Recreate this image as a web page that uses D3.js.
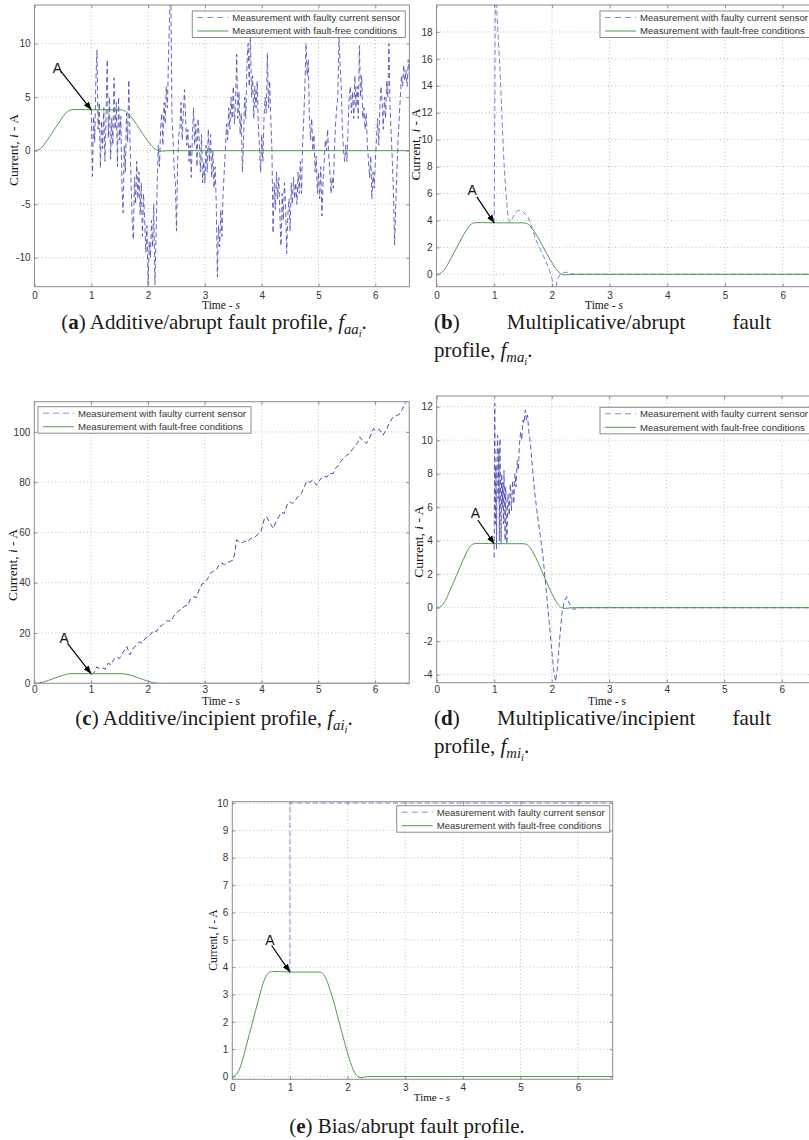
<!DOCTYPE html>
<html><head><meta charset="utf-8">
<script src="https://cdn.jsdelivr.net/npm/d3@7"></script>
<style>body{margin:0;background:#fff}svg{display:block}</style>
</head><body>
<svg id="c" width="809" height="1140"></svg>
<script>
// ---------------- DATA ----------------
const ticksX = [0, 1, 2, 3, 4, 5, 6];
const ticksYA = [-10, -5, 0, 5, 10];
const ticksYB = [0, 2, 4, 6, 8, 10, 12, 14, 16, 18];
const ticksYC = [0, 20, 40, 60, 80, 100];
const ticksYD = [-4, -2, 0, 2, 4, 6, 8, 10, 12];
const ticksYE = [0, 1, 2, 3, 4, 5, 6, 7, 8, 9, 10];
const legendLabels = ["Measurement with faulty current sensor", "Measurement with fault-free conditions"];

// fault-free current profile (s, A)
const timeFF = [0, 0.05, 0.1, 0.15, 0.2, 0.25, 0.3, 0.35, 0.4, 0.45, 0.5, 0.55, 0.6, 0.65, 0.7, 0.8, 0.9, 1.0, 1.1, 1.2, 1.3, 1.4, 1.5, 1.55, 1.6, 1.65, 1.7, 1.75, 1.8, 1.85, 1.9, 1.95, 2.0, 2.05, 2.1, 2.15, 2.2, 2.25, 2.3, 2.35, 6.6];
const currentFF = [0, 0.04, 0.17, 0.42, 0.78, 1.18, 1.58, 1.98, 2.38, 2.78, 3.16, 3.5, 3.72, 3.82, 3.84, 3.84, 3.83, 3.82, 3.82, 3.82, 3.82, 3.82, 3.82, 3.8, 3.68, 3.45, 3.15, 2.8, 2.42, 2.02, 1.62, 1.24, 0.86, 0.52, 0.24, 0.06, -0.03, -0.04, -0.02, 0, 0];

// (a) additive / abrupt: sampled every 0.02 s from 1.00 s
const faultAStart = 1.0, faultAStep = 0.02;
const currentFaultA = [
 3.8,-2.4,3.2,0.8,6.5,9.4,2.0,4.5,-1.6,2.8,
 0.2,4.0,-1.0,3.5,8.5,1.2,5.0,-0.8,3.0,0.5,
 6.8,2.0,4.5,-1.5,5.0,1.0,3.2,-3.5,-5.8,0.5,
 -2.0,3.5,0.8,6.6,1.5,-3.0,-6.5,-8.3,-2.5,-5.0,
 -1.0,-4.5,-2.0,-6.0,-3.0,-8.0,-4.0,-6.5,-9.5,-7.0,
 -12.7,-8.5,-10.0,-6.5,-9.0,-5.0,-12.5,-8.0,-3.0,0.5,
 -1.5,2.0,3.5,0.5,4.5,2.5,6.0,4.0,9.0,13.0,
 15.0,3.0,1.0,-2.0,-3.0,-7.5,-1.0,1.5,2.0,4.5,
 1.0,3.5,5.7,3.0,0.5,2.0,-1.0,0.5,-2.5,1.5,
 4.0,0.5,2.5,-1.5,3.0,1.0,-2.0,1.5,-3.0,-1.0,
 -3.0,0.5,-2.0,2.0,-1.0,1.5,-2.5,0.0,-3.5,-1.5,
 -5.0,-11.8,-7.0,-9.0,-5.5,-8.0,-4.0,-2.0,0.0,2.5,
 1.0,4.0,2.0,5.0,3.0,6.0,2.5,4.5,9.0,3.0,
 5.5,1.5,3.5,-2.0,1.0,5.0,3.0,8.0,10.0,6.0,
 11.0,5.0,7.0,3.0,6.0,4.0,6.5,2.5,0.5,-2.0,
 1.5,-1.0,3.0,5.0,3.5,9.1,4.0,6.5,3.0,0.0,
 -7.7,-3.0,-5.5,-2.0,-4.5,-2.5,-6.0,-8.9,-4.0,-6.5,
 -3.0,-5.0,-9.6,-6.0,-4.5,-7.5,-3.0,-5.0,-2.5,-4.5,
 -3.0,-5.0,-2.0,-4.0,-1.0,-4.0,0.5,3.0,6.0,10.0,
 7.0,8.5,3.0,1.0,3.0,0.0,1.5,-2.0,-0.5,-4.0,
 -2.0,-4.5,-1.5,-6.1,-3.0,-1.0,1.0,0.0,2.0,-0.5,
 -2.0,-4.0,-2.5,-3.5,0.0,2.5,4.0,5.0,10.5,8.0,
 6.0,2.0,0.0,-1.0,0.5,-1.0,2.0,5.0,6.0,3.5,
 5.5,3.0,7.0,4.0,6.0,3.0,9.8,5.0,7.0,3.0,
 4.0,2.0,3.5,0.5,-1.0,-2.5,-0.5,-4.5,-2.0,-3.5,
 -1.0,1.0,3.0,0.5,4.0,6.0,4.5,2.0,5.0,3.0,
 6.5,5.0,10.0,4.0,1.5,-1.0,-4.0,-8.8,-5.0,-2.0,
 1.0,3.0,5.0,7.0,6.0,8.0,6.5,7.5,6.0,8.5,
 7.0];

// (b) multiplicative / abrupt
const timeFaultB = [1.0, 1.01, 1.02, 1.03, 1.05, 1.08, 1.1, 1.13, 1.16, 1.19, 1.22, 1.25, 1.28, 1.32, 1.36, 1.42, 1.48, 1.54, 1.58, 1.62, 1.66, 1.7, 1.75, 1.8, 1.85, 1.9, 1.95, 2.0, 2.03, 2.06, 2.09, 2.13, 2.18, 2.25, 2.32, 2.4, 6.6];
const currentFaultB = [3.82, 12, 20.5, 21.5, 19.2, 16.8, 15.2, 12.2, 9.2, 6.9, 5.2, 4.1, 3.85, 4.2, 4.5, 4.75, 4.7, 4.45, 4.3, 3.9, 3.4, 2.85, 2.3, 1.85, 1.4, 0.9, 0.4, -0.3, -1.0, -1.1, -0.5, -0.1, 0.08, 0.15, 0.08, 0, 0];

// (c) additive / incipient
const timeFaultC = [1.0,1.05,1.1,1.15,1.2,1.25,1.3,1.35,1.4,1.45,1.5,1.55,1.6,1.63,1.68,1.72,1.75,1.8,1.85,1.9,1.95,2.0,2.05,2.1,2.15,2.2,2.25,2.3,2.35,2.4,2.45,2.5,2.55,2.6,2.65,2.7,2.75,2.8,2.85,2.9,2.95,3.0,3.05,3.1,3.15,3.2,3.25,3.3,3.35,3.4,3.45,3.5,3.53,3.56,3.6,3.65,3.7,3.75,3.8,3.85,3.9,3.95,4.0,4.05,4.09,4.13,4.17,4.21,4.25,4.3,4.35,4.4,4.45,4.5,4.55,4.6,4.65,4.7,4.75,4.8,4.85,4.9,4.97,5.0,5.05,5.1,5.15,5.2,5.26,5.3,5.35,5.4,5.45,5.5,5.55,5.6,5.65,5.7,5.73,5.78,5.85,5.9,5.97,6.02,6.07,6.14,6.2,6.25,6.32,6.38,6.44,6.48,6.53,6.58];
const currentFaultC = [3.5,4.2,6.5,5.8,6.2,5.6,8.0,7.4,9.5,10.6,9.8,12.0,13.5,14.6,11.3,13.0,14.2,15.0,16.5,16.0,17.8,18.5,19.5,21.0,20.5,22.5,23.0,24.2,25.0,24.5,26.5,28.0,29.0,29.5,30.8,31.0,33.5,34.5,34.0,37.0,39.5,40.0,41.5,43.8,44.5,45.0,47.0,47.8,47.2,48.0,48.5,49.0,52.0,57.0,56.5,55.8,56.5,56.0,57.5,58.0,58.5,59.5,61.0,65.5,66.2,64.5,63.0,61.6,64.0,66.0,68.0,67.5,71.0,72.2,71.5,73.0,74.5,75.5,78.0,80.5,80.0,80.8,78.8,80.0,81.5,82.5,82.0,83.5,83.4,85.5,86.5,88.5,89.5,90.7,91.5,93.0,94.5,96.0,98.0,96.5,95.4,97.5,101.3,100.5,101.0,98.7,101.0,103.5,106.0,106.5,107.3,109.0,111.5,112.5];

// (d) multiplicative / incipient
const timeFaultD = [1.0,1.01,1.02,1.03,1.04,1.05,1.06,1.07,1.08,1.09,1.1,1.11,1.12,1.13,1.14,1.15,1.16,1.17,1.18,1.19,1.2,1.22,1.24,1.26,1.28,1.3,1.32,1.34,1.36,1.38,1.4,1.42,1.44,1.46,1.48,1.5,1.52,1.54,1.56,1.58,1.6,1.63,1.66,1.7,1.75,1.8,1.85,1.9,1.95,2.0,2.04,2.07,2.1,2.14,2.18,2.22,2.26,2.3,2.34,2.38,2.44,2.5,6.6];
const currentFaultD = [3.0,12.2,5.0,8.5,3.5,9.0,10.3,6.5,9.5,4.0,10.1,7.0,3.8,8.0,6.0,7.5,5.0,8.2,6.5,4.0,7.2,3.8,6.8,5.5,7.4,5.8,7.6,6.2,8.0,7.2,8.8,8.2,9.8,10.5,10.0,11.2,11.0,11.8,11.2,11.5,10.6,9.8,8.6,7.0,5.6,4.3,3.0,1.2,-0.6,-2.5,-3.9,-4.4,-3.6,-1.8,-0.3,0.4,0.65,0.3,0.0,-0.1,-0.05,0,0];

// (e) bias / abrupt
const timeFaultE = [1.0, 1.0, 6.6];
const currentFaultE = [3.82, 10, 10];

// ---------------- DRAW ----------------
const svg = d3.select('#c');
const SANS = 'Liberation Sans, Arial, sans-serif';
const SERIF = 'Liberation Serif, Times New Roman, serif';
const GREEN = '#4f9a4f';

const panels = [
 {id:'a', l:34.5, r:409.4, t:5, b:286.7, yDom:[-12.7,13.6], yTicks:ticksYA,
  ft: currentFaultA.map((v,i)=>faultAStart + i*faultAStep), fv: currentFaultA, fcol:'#4a4ab4', fw:0.85, fcurve:d3.curveLinear,
  xPad:5, yl:[13,150,13.5], italicS:true, tl:[221,309],
  leg:[192.3,11], ann:{tx:-34,ty:-42, sx:-30.3, sy:-38.4}},
 {id:'b', l:436.5, r:817.3, t:5, b:286.7, yDom:[-0.92,20], yTicks:ticksYB,
  ft: timeFaultB, fv: currentFaultB, fcol:'#7c7cd0', fw:1, fcurve:d3.curveMonotoneX,
  xPad:5, yl:[415,144.5,13.5], italicS:true, tl:[604,309],
  leg:[600,11], ann:{tx:-22,ty:-33.4, sx:-17.4, sy:-26}},
 {id:'c', l:34.3, r:409.2, t:401.7, b:683.3, yDom:[0,112], yTicks:ticksYC,
  ft: timeFaultC, fv: currentFaultC, fcol:'#4848ae', fw:1, fcurve:d3.curveLinear,
  xPad:2.6, yl:[12,565,13.5], italicS:false, tl:[221,704.5],
  leg:[38,406.7], ann:{tx:-27,ty:-35.4, sx:-23.6, sy:-30.4}},
 {id:'d', l:436.7, r:816.2, t:396, b:682.7, yDom:[-4.48,12.64], yTicks:ticksYD,
  ft: timeFaultD, fv: currentFaultD, fcol:'#4c4cb2', fw:0.9, fcurve:d3.curveLinear,
  xPad:3.5, yl:[418.3,541.7,13.5], italicS:false, tl:[607,705],
  leg:[600,407.3], ann:{tx:-18.7,ty:-30.4, sx:-16.4, sy:-23.7}},
 {id:'e', l:232.3, r:612.7, t:801.7, b:1079.3, yDom:[-0.1,10.05], yTicks:ticksYE,
  ft: timeFaultE, fv: currentFaultE, fcol:'#8a8ad8', fw:1, fcurve:d3.curveLinear,
  xPad:4.6, yl:[213,940,11.5], italicS:true, tl:[432,1101],
  leg:[396.7,805.7], ann:{tx:-20,ty:-32.6, sx:-18.3, sy:-26.6}}
];

const defs = svg.append('defs');
defs.append('marker').attr('id','arr').attr('viewBox','0 0 10 10').attr('refX',10).attr('refY',5)
  .attr('markerWidth',8).attr('markerHeight',8).attr('orient','auto').attr('markerUnits','userSpaceOnUse')
  .append('path').attr('d','M0,1 L10,5 L0,9 Z').attr('fill','#000');

function drawPanel(p){
  const g = svg.append('g').attr('id','panel-'+p.id);
  const x = d3.scaleLinear().domain([0,6.6]).range([p.l,p.r]);
  const y = d3.scaleLinear().domain(p.yDom).range([p.b,p.t]);
  defs.append('clipPath').attr('id','clip'+p.id).append('rect')
    .attr('x',p.l).attr('y',p.t).attr('width',p.r-p.l).attr('height',p.b-p.t);

  // grid
  g.append('g').selectAll('line').data(ticksX.filter(d=>d>0)).join('line')
    .attr('x1',d=>x(d)).attr('x2',d=>x(d)).attr('y1',p.t).attr('y2',p.b)
    .attr('stroke','#b0b0b0').attr('stroke-width',0.8).attr('stroke-dasharray','1,2.5');
  g.append('g').selectAll('line').data(p.yTicks.filter(d=>y(d)<p.b-0.5 && y(d)>p.t+0.5)).join('line')
    .attr('y1',d=>y(d)).attr('y2',d=>y(d)).attr('x1',p.l).attr('x2',p.r)
    .attr('stroke','#b0b0b0').attr('stroke-width',0.8).attr('stroke-dasharray','1,2.5');

  // series
  const pl = g.append('g').attr('clip-path',`url(#clip${p.id})`);
  const fd = p.ft.map((t,i)=>[t,p.fv[i]]);
  pl.append('path').attr('d', d3.line().x(d=>x(d[0])).y(d=>y(d[1])).curve(p.fcurve)(fd))
    .attr('fill','none').attr('stroke',p.fcol).attr('stroke-width',p.fw).attr('stroke-dasharray','5,3');
  const ffd = timeFF.map((t,i)=>[t,currentFF[i]]);
  pl.append('path').attr('d', d3.line().x(d=>x(d[0])).y(d=>y(d[1])).curve(d3.curveMonotoneX)(ffd))
    .attr('fill','none').attr('stroke',GREEN).attr('stroke-width',1);

  // box
  g.append('rect').attr('x',p.l).attr('y',p.t).attr('width',p.r-p.l).attr('height',p.b-p.t)
    .attr('fill','none').attr('stroke','#8c8c8c').attr('stroke-width',1);

  // axes
  const fmt = d=>String(d);
  const style = sel=>{
    sel.select('.domain').remove();
    sel.selectAll('line').attr('stroke','#8c8c8c');
    sel.selectAll('text').attr('font-family',SANS).attr('font-size',10).attr('fill','#333');
  };
  g.append('g').attr('transform',`translate(0,${p.b})`)
    .call(d3.axisBottom(x).tickValues(ticksX).tickSize(-3).tickPadding(p.xPad).tickFormat(fmt)).call(style);
  g.append('g').attr('transform',`translate(${p.l},0)`)
    .call(d3.axisLeft(y).tickValues(p.yTicks).tickSize(-3).tickPadding(4).tickFormat(fmt)).call(style);
  g.append('g').attr('transform',`translate(0,${p.t})`)
    .call(d3.axisTop(x).tickValues(ticksX).tickSize(-3).tickFormat('')).call(style);
  g.append('g').attr('transform',`translate(${p.r},0)`)
    .call(d3.axisRight(y).tickValues(p.yTicks).tickSize(-3).tickFormat('')).call(style);

  // y label
  const yl = g.append('text').attr('transform',`translate(${p.yl[0]},${p.yl[1]}) rotate(-90)`)
    .attr('text-anchor','middle').attr('dy','0.35em').attr('font-family',SERIF).attr('font-size',p.yl[2]).attr('fill','#111');
  yl.append('tspan').text('Current, ');
  yl.append('tspan').attr('font-style','italic').text('i');
  yl.append('tspan').text(' - A');

  // x label
  const xl = g.append('text').attr('x',p.tl[0]).attr('y',p.tl[1]).attr('text-anchor','middle')
    .attr('font-family',SERIF).attr('font-size',p.id==='e'?11:11.5).attr('fill','#111');
  xl.append('tspan').text('Time - ');
  xl.append('tspan').attr('font-style',p.italicS?'italic':'normal').text('s');

  // legend
  const lg = g.append('g').attr('transform',`translate(${p.leg[0]},${p.leg[1]})`);
  lg.append('rect').attr('width',213).attr('height',26.5).attr('fill','#fff').attr('stroke','#8c8c8c').attr('stroke-width',1);
  lg.selectAll('line.s').data(legendLabels).join('line').attr('class','s')
    .attr('x1',5).attr('x2',36).attr('y1',(d,i)=>6.5+i*13.5).attr('y2',(d,i)=>6.5+i*13.5)
    .attr('stroke',(d,i)=>i===0?'#8a8ad8':GREEN).attr('stroke-width',1)
    .attr('stroke-dasharray',(d,i)=>i===0?'6,4':null);
  lg.selectAll('text').data(legendLabels).join('text')
    .attr('x',40).attr('y',(d,i)=>6.5+i*13.5).attr('dy','0.35em')
    .attr('font-family',SANS).attr('font-size',9.6).attr('fill','#333').text(d=>d);

  // annotation A
  const px = x(1.0), py = y(3.82);
  g.append('text').attr('x',px+p.ann.tx).attr('y',py+p.ann.ty).attr('dy','0.36em').attr('text-anchor','middle')
    .attr('font-family',SANS).attr('font-size',14).attr('fill','#111').text('A');
  g.append('line').attr('x1',px+p.ann.sx).attr('y1',py+p.ann.sy).attr('x2',px).attr('y2',py)
    .attr('stroke','#000').attr('stroke-width',1.2).attr('marker-end','url(#arr)');
}
panels.forEach(drawPanel);

// ---------------- CAPTIONS ----------------
function caption(x, y, size, segs, anchor){
  const t = svg.append('text').attr('x',x).attr('y',y).attr('font-family',SERIF).attr('font-size',size)
    .attr('fill','#1a1a1a').attr('text-anchor',anchor||'start');
  let off = 0;
  segs.forEach(s=>{
    const lvl = s.sub||0;
    const target = lvl===1 ? size*0.25 : lvl===2 ? size*0.4 : 0;
    const fs = lvl===1 ? size*0.7 : lvl===2 ? size*0.5 : size;
    const ts = t.append('tspan').attr('font-size',fs).attr('dy',target-off).text(s.t);
    off = target;
    if(s.b) ts.attr('font-weight','bold');
    if(s.i) ts.attr('font-style','italic');
  });
  return t;
}
function justified(x0, x1, y, size, words){
  const els = words.map(w=>caption(0,y,size,w));
  const ws = els.map(e=>e.node().getComputedTextLength());
  const gap = (x1-x0-d3.sum(ws))/(words.length-1);
  let cx = x0;
  els.forEach((e,i)=>{ e.attr('x',cx); cx += ws[i]+gap; });
}
const CS = 21;
caption(214, 329, CS, [{t:'('},{t:'a',b:1},{t:') Additive/abrupt fault profile, '},{t:'f',i:1},{t:'aa',i:1,sub:1},{t:'i',i:1,sub:2},{t:'.'}], 'middle');
justified(434, 771, 329, CS, [[{t:'('},{t:'b',b:1},{t:')'}],[{t:'Multiplicative/abrupt'}],[{t:'fault'}]]);
caption(434, 357, CS, [{t:'profile, '},{t:'f',i:1},{t:'ma',i:1,sub:1},{t:'i',i:1,sub:2},{t:'.'}]);
caption(214, 725, CS, [{t:'('},{t:'c',b:1},{t:') Additive/incipient profile, '},{t:'f',i:1},{t:'ai',i:1,sub:1},{t:'i',i:1,sub:2},{t:'.'}], 'middle');
justified(434, 771, 725, CS, [[{t:'('},{t:'d',b:1},{t:')'}],[{t:'Multiplicative/incipient'}],[{t:'fault'}]]);
caption(434, 753, CS, [{t:'profile, '},{t:'f',i:1},{t:'mi',i:1,sub:1},{t:'i',i:1,sub:2},{t:'.'}]);
caption(407, 1133, CS, [{t:'('},{t:'e',b:1},{t:') Bias/abrupt fault profile.'}], 'middle');
</script>
</body></html>
